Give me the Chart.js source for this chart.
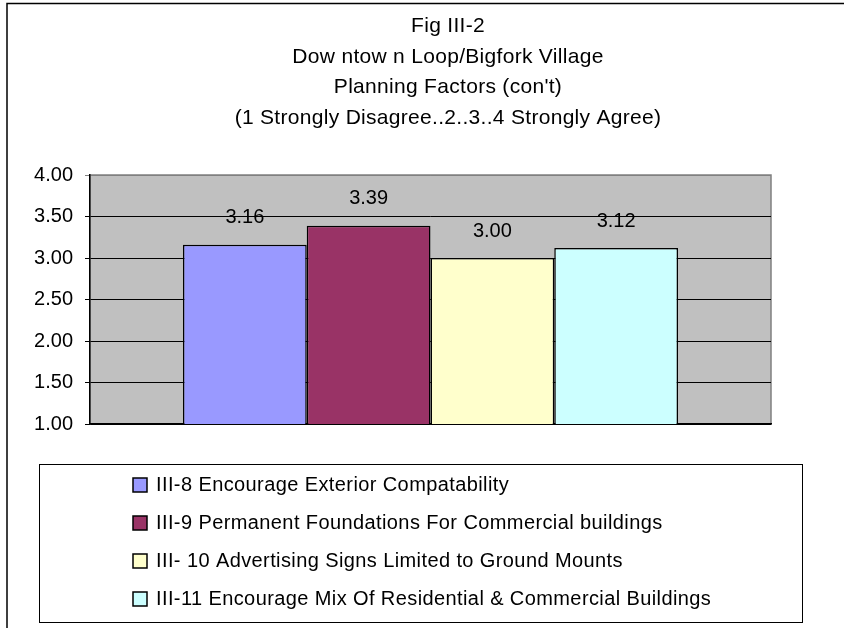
<!DOCTYPE html>
<html>
<head>
<meta charset="utf-8">
<script src="https://cdn.jsdelivr.net/npm/chart.js@4/dist/chart.umd.min.js"></script>
<style>
  html, body { margin: 0; padding: 0; background: #fff; }
  #wrap { width: 844px; height: 628px; }
</style>
</head>
<body>
<div id="wrap"><canvas id="factorsChart" width="844" height="628"></canvas></div>
<script>
// Survey averages, 1 = strongly disagree .. 4 = strongly agree
const seriesLabels = [
    'III-8 Encourage Exterior Compatability',
    'III-9 Permanent Foundations For Commercial buildings',
    'III- 10 Advertising Signs Limited to Ground Mounts',
    'III-11 Encourage Mix Of Residential & Commercial Buildings'
];
const seriesValues = [3.16, 3.39, 3.00, 3.12];
const seriesColors = ['#9999FF', '#993366', '#FFFFCC', '#CCFFFF'];
const titleLines = [
    'Fig III-2',
    'Dow ntow n Loop/Bigfork Village',
    'Planning Factors (con\'t)',
    '(1 Strongly Disagree..2..3..4 Strongly Agree)'
];

const FONT = 'Liberation Sans, Arial, sans-serif';

// gray plot area + outer frame
const frame = {
    id: 'frame',
    beforeDraw(chart) {
        const c = chart.ctx, a = chart.chartArea;
        c.save();
        c.fillStyle = '#fff';
        c.fillRect(0, 0, chart.width, chart.height);
        c.strokeStyle = '#000';
        c.lineWidth = 1.5;
        c.strokeRect(7, 3.5, 900, 700);
        c.fillStyle = '#C0C0C0';
        c.fillRect(a.left, a.top, a.right - a.left, a.bottom - a.top);
        c.strokeStyle = '#808080';
        c.lineWidth = 1.5;
        c.strokeRect(a.left, a.top, a.right - a.left, a.bottom - a.top);
        c.restore();
    }
};

// title block, centred on the whole chart frame (which runs past the right edge)
const titleBlock = {
    id: 'titleBlock',
    afterDraw(chart) {
        const c = chart.ctx;
        c.save();
        c.font = '21px ' + FONT;
        c.letterSpacing = '0.3px';
        c.fillStyle = '#000';
        c.textAlign = 'center';
        c.textBaseline = 'middle';
        titleLines.forEach((line, i) => c.fillText(line, 448, 26.5 + i * 30.5));
        c.restore();
    }
};

// value above each bar
const valueLabels = {
    id: 'valueLabels',
    afterDatasetsDraw(chart) {
        const c = chart.ctx;
        c.save();
        c.font = '20px ' + FONT;
        c.fillStyle = '#000';
        c.textAlign = 'center';
        c.textBaseline = 'middle';
        chart.data.datasets.forEach((ds, i) => {
            const bar = chart.getDatasetMeta(i).data[0];
            c.fillText(ds.data[0].toFixed(2), bar.x, bar.y - 27);
        });
        c.restore();
    }
};

// boxed legend, one entry per row
const boxLegend = {
    id: 'boxLegend',
    afterDraw(chart) {
        const c = chart.ctx;
        c.save();
        c.fillStyle = '#fff';
        c.fillRect(39, 464, 763, 158);
        c.strokeStyle = '#000';
        c.lineWidth = 1;
        c.strokeRect(39.5, 464.5, 763, 158);
        c.font = '20px ' + FONT;
        c.letterSpacing = '0.4px';
        c.textBaseline = 'middle';
        chart.data.datasets.forEach((ds, i) => {
            const y = 485 + i * 38;
            c.fillStyle = ds.backgroundColor;
            c.fillRect(133, y - 7, 14, 14);
            c.strokeStyle = '#000';
            c.lineWidth = 1.5;
            c.strokeRect(133, y - 7, 14, 14);
            c.fillStyle = '#000';
            c.fillText(ds.label, 156, y);
        });
        c.restore();
    }
};

const ctx = document.getElementById('factorsChart').getContext('2d');
const factorsChart = new Chart(ctx, {
    type: 'bar',
    data: {
        labels: [''],
        datasets: seriesLabels.map((label, i) => ({
            label: label,
            data: [seriesValues[i]],
            backgroundColor: seriesColors[i],
            borderColor: '#000',
            borderWidth: 1.5,
            categoryPercentage: 0.727,
            barPercentage: 1
        }))
    },
    options: {
        responsive: false,
        animation: false,
        layout: {
            padding: { left: 7, right: 73, top: 175, bottom: 204 }
        },
        plugins: {
            legend: { display: false },
            tooltip: { enabled: false },
            title: { display: false }
        },
        scales: {
            x: {
                grid: { display: false },
                ticks: { display: false },
                border: { display: true, color: '#000', width: 1.5 },
                afterFit(scale) { scale.height = 0; }
            },
            y: {
                min: 1,
                max: 4,
                ticks: {
                    stepSize: 0.5,
                    padding: 12,
                    color: '#000',
                    font: { family: FONT, size: 20 },
                    callback: v => v.toFixed(2)
                },
                grid: {
                    color: c => (c.tick && c.tick.value === 4) ? '#808080' : '#000',
                    lineWidth: 1,
                    tickLength: 5
                },
                border: { display: true, color: '#000', width: 1.5 },
                afterFit(scale) { scale.width = 83; }
            }
        }
    },
    plugins: [frame, titleBlock, valueLabels, boxLegend]
});
</script>
</body>
</html>
